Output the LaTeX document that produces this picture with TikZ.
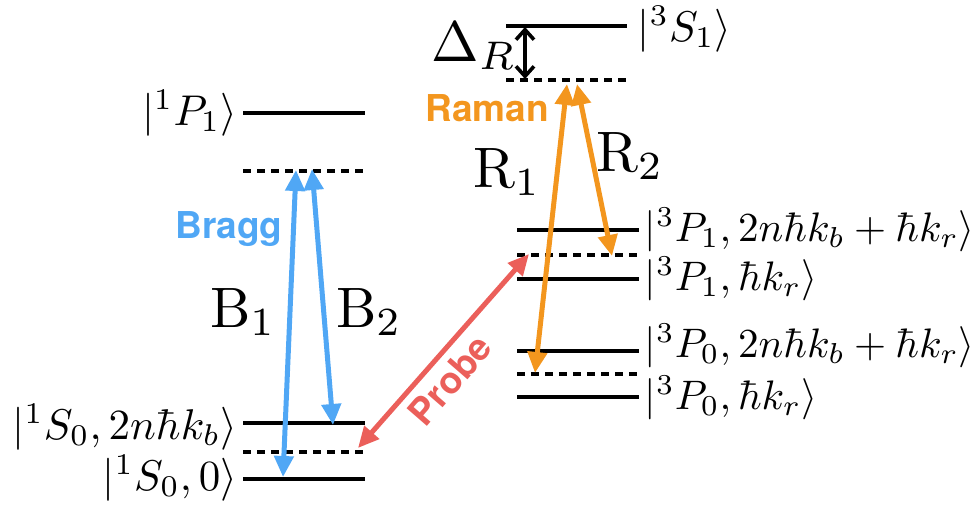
\documentclass[tikz,border=0pt]{standalone}
\usepackage{fontspec}
\newfontfamily\headfont{TeX Gyre Heros}
\usetikzlibrary{arrows.meta}
\definecolor{braggblue}{RGB}{80,167,245}
\definecolor{ramanorange}{RGB}{243,150,30}
\definecolor{probered}{RGB}{235,95,90}
\tikzset{
  level/.style={line width=4pt},
  dlevel/.style={line width=4pt, dash pattern=on 8pt off 6pt},
  beam/.style={line width=5pt, {Triangle[length=21pt,width=19pt]}-{Triangle[length=21pt,width=19pt]}},
  statelbl/.style={inner sep=0pt, scale=4.3},
  rstatelbl/.style={inner sep=0pt, scale=4.12},
  biglbl/.style={inner sep=0pt, scale=5.7},
  tag/.style={inner sep=0pt, scale=3.7, font=\headfont\bfseries}
}
\begin{document}
\begin{tikzpicture}[x=1pt,y=-1pt]
\useasboundingbox (0,0) rectangle (979,511);
% left levels
\coordinate (p1a) at (243,113); \coordinate (p1b) at (365,113);
\coordinate (v1a) at (243,171); \coordinate (v1b) at (365,171);
\coordinate (s2a) at (243,423); \coordinate (s2b) at (365,423);
\coordinate (v2a) at (243,452); \coordinate (v2b) at (365,452);
\coordinate (s0a) at (243,479); \coordinate (s0b) at (365,479);
\draw[level] (p1a) -- (p1b);
\draw[dlevel] (v1a) -- (v1b);
\draw[level] (s2a) -- (s2b);
\draw[dlevel] (v2a) -- (v2b);
\draw[level] (s0a) -- (s0b);
% right levels
\coordinate (t1a) at (506,26); \coordinate (t1b) at (627,26);
\coordinate (v3a) at (506,80); \coordinate (v3b) at (627,80);
\coordinate (q1a) at (517,230); \coordinate (q1b) at (639,230);
\coordinate (v4a) at (517,255); \coordinate (v4b) at (639,255);
\coordinate (q2a) at (517,279); \coordinate (q2b) at (639,279);
\coordinate (q3a) at (517,351); \coordinate (q3b) at (639,351);
\coordinate (v5a) at (517,374); \coordinate (v5b) at (639,374);
\coordinate (q4a) at (517,397); \coordinate (q4b) at (639,397);
\draw[level] (t1a) -- (t1b);
\draw[dlevel] (v3a) -- (v3b);
\draw[level] (q1a) -- (q1b);
\draw[dlevel] (v4a) -- (v4b);
\draw[level] (q2a) -- (q2b);
\draw[level] (q3a) -- (q3b);
\draw[dlevel] (v5a) -- (v5b);
\draw[level] (q4a) -- (q4b);
% state labels
\node[statelbl, anchor=east] (L1) at (238,113) {$|{}^1P_1\rangle$};
\node[statelbl, anchor=east] (L2) at (238,427) {$|{}^1S_0, 2n\hbar k_b\rangle$};
\node[statelbl, anchor=east] (L3) at (238,478) {$|{}^1S_0, 0\rangle$};
\node[statelbl, anchor=west] (R0) at (637,29) {$|{}^3S_1\rangle$};
\node[rstatelbl, anchor=west] (Ra) at (644,230) {$|{}^3P_1, 2n\hbar k_b + \hbar k_r\rangle$};
\node[rstatelbl, anchor=west] (Rb) at (644,279) {$|{}^3P_1, \hbar k_r\rangle$};
\node[rstatelbl, anchor=west] (Rc) at (644,346) {$|{}^3P_0, 2n\hbar k_b + \hbar k_r\rangle$};
\node[rstatelbl, anchor=west] (Rd) at (644,398) {$|{}^3P_0, \hbar k_r\rangle$};
% beam end points
\coordinate (b1bot) at (283,477); \coordinate (b1top) at (296,170);
\coordinate (b2top) at (312,169); \coordinate (b2bot) at (333,425);
\coordinate (r1top) at (567,84); \coordinate (r1bot) at (535,373);
\coordinate (r2top) at (577,84); \coordinate (r2bot) at (612,256);
\coordinate (prbot) at (358,448); \coordinate (prtop) at (529,254);
\coordinate (dtop) at (525,27); \coordinate (dbot) at (525,79);
% beams
\draw[beam, braggblue] (b1bot) -- (b1top);
\draw[beam, braggblue] (b2top) -- (b2bot);
\draw[beam, ramanorange] (r1top) -- (r1bot);
\draw[beam, ramanorange] (r2top) -- (r2bot);
\draw[beam, probered] (prbot) -- (prtop);
\draw[line width=3.6pt, {Straight Barb[length=10pt,width=18pt]}-{Straight Barb[length=10pt,width=18pt]}] (dtop) -- (dbot);
% beam labels
\node[tag, text=braggblue] (bragg) at (229,229) {Bragg};
\node[tag, text=ramanorange] (raman) at (487,108) {Raman};
\node[tag, text=probered, rotate=49] (probe) at (450,380) {Probe};
\node[biglbl] (B1) at (243,312) {$\mathrm{B}_1$};
\node[biglbl] (B2) at (369,312) {$\mathrm{B}_2$};
\node[biglbl] (R1) at (507,172) {$\mathrm{R}_1$};
\node[biglbl] (R2) at (630,156) {$\mathrm{R}_2$};
\node[biglbl] (DR) at (474,46) {$\Delta_R$};
\end{tikzpicture}
\end{document}
